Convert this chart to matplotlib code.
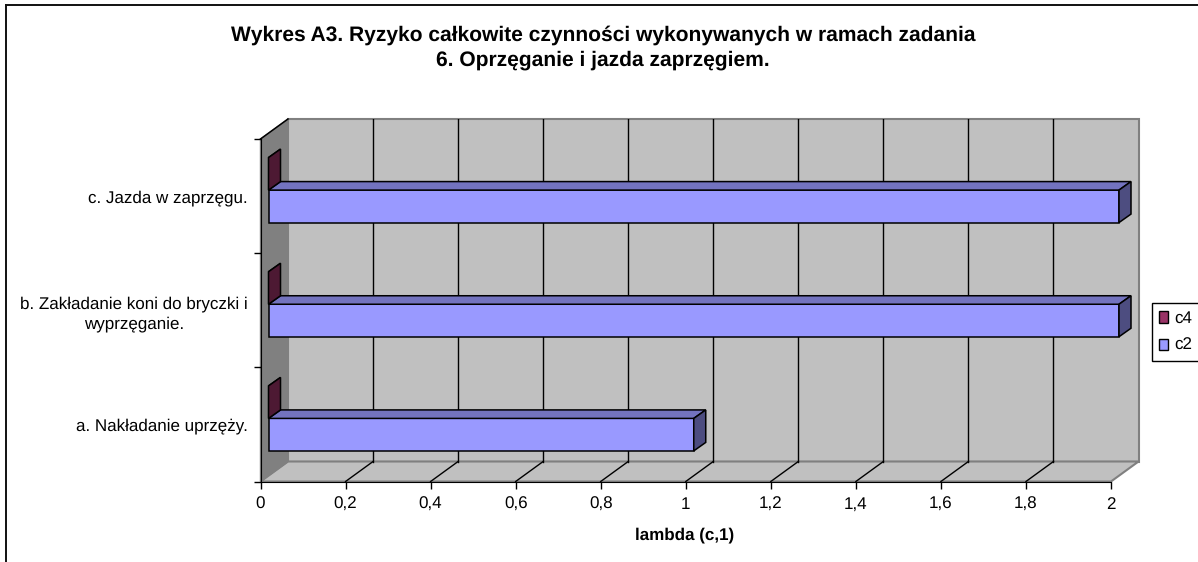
import matplotlib
matplotlib.use("Agg")
import matplotlib.pyplot as plt
from matplotlib.patches import Patch, Polygon
from matplotlib.lines import Line2D

plt.rcParams['font.family'] = ['Liberation Sans', 'DejaVu Sans']
plt.rcParams['text.hinting'] = 'none'
plt.rcParams['text.hinting_factor'] = 1

TITLE = "Wykres A3. Ryzyko całkowite czynności wykonywanych w ramach zadania\n6. Oprzęganie i jazda zaprzęgiem."
CATEGORIES = ["a. Nakładanie uprzęży.", "b. Zakładanie koni do bryczki i\nwyprzęganie.", "c. Jazda w zaprzęgu."]
C4_VALUES = [0, 0, 0]
C2_VALUES = [1, 2, 2]
X_TICKS = [0, 0.2, 0.4, 0.6, 0.8, 1, 1.2, 1.4, 1.6, 1.8, 2]
X_LABEL = "lambda (c,1)"

WIDTH, HEIGHT = 1198, 562
X0, X2 = 260.5, 1111.0
Y_BOTTOM, Y_TOP = 481.5, 139.0
PX_X = (X2 - X0) / 2
PX_Y = (Y_BOTTOM - Y_TOP) / 3

# depth of the fake 3d box, in data units
DEPTH_X, DEPTH_Y = 27.5 / PX_X, 20 / PX_Y
BAR_DX, BAR_DY = 8 / PX_X, 6 / PX_Y
BAR_DEPTH_X, BAR_DEPTH_Y = 12 / PX_X, 8.5 / PX_Y
BAR_H = 32.5 / PX_Y


def draw_bar(ax, x, y, value, front, top, side):
    x = x + BAR_DX
    y = y + BAR_DY
    ax.barh(y, value, height=BAR_H, left=x, align="edge", color=front, edgecolor="black", lw=1.1, zorder=5)
    ex, ey = BAR_DEPTH_X, BAR_DEPTH_Y
    ax.add_patch(Polygon([(x, y + BAR_H), (x + ex, y + BAR_H + ey), (x + value + ex, y + BAR_H + ey), (x + value, y + BAR_H)],
                         fc=top, ec="black", lw=1.1, zorder=5))
    ax.add_patch(Polygon([(x + value, y), (x + value + ex, y + ey), (x + value + ex, y + BAR_H + ey), (x + value, y + BAR_H)],
                         fc=side, ec="black", lw=1.1, zorder=5))


fig = plt.figure(figsize=(WIDTH / 100, HEIGHT / 100), dpi=100)

# chart border, only top and left are inside the crop
fig.add_artist(Line2D([6 / WIDTH, 6 / WIDTH], [0, 1 - 5 / HEIGHT], color="#111111", lw=1.4))
fig.add_artist(Line2D([6 / WIDTH, 1], [1 - 5 / HEIGHT] * 2, color="#111111", lw=1.4))

ax = fig.add_axes([X0 / WIDTH, 1 - Y_BOTTOM / HEIGHT, (X2 + 27.5 - X0) / WIDTH, (Y_BOTTOM - Y_TOP + 20) / HEIGHT])
ax.set_xlim(0, 2 + DEPTH_X)
ax.set_ylim(0, 3 + DEPTH_Y)
ax.patch.set_visible(False)

# walls and floor
ax.add_patch(Polygon([(DEPTH_X, DEPTH_Y), (2 + DEPTH_X, DEPTH_Y), (2 + DEPTH_X, 3 + DEPTH_Y), (DEPTH_X, 3 + DEPTH_Y)],
                     fc="#c0c0c0", ec="#808080", lw=1.5, zorder=1, clip_on=False))
ax.add_patch(Polygon([(0, 0), (2, 0), (2 + DEPTH_X, DEPTH_Y), (DEPTH_X, DEPTH_Y)],
                     fc="#c0c0c0", ec="#808080", lw=1.5, zorder=1, clip_on=False))
ax.add_patch(Polygon([(0, 0), (DEPTH_X, DEPTH_Y), (DEPTH_X, 3 + DEPTH_Y), (0, 3)],
                     fc="#808080", ec="#808080", lw=1, zorder=1, clip_on=False))
ax.plot([0, DEPTH_X], [3, 3 + DEPTH_Y], color="black", lw=1.1, zorder=2, clip_on=False)

# gridlines on back wall and floor
for tick in X_TICKS[1:-1]:
    ax.plot([tick + DEPTH_X, tick + DEPTH_X], [DEPTH_Y, 3 + DEPTH_Y], color="black", lw=1, zorder=2)
    ax.plot([tick, tick + DEPTH_X], [0, DEPTH_Y], color="black", lw=1, zorder=2)

for i in range(len(CATEGORIES)):
    base = i + 0.5 - BAR_H
    draw_bar(ax, 0, base, C2_VALUES[i], "#9999ff", "#7373bf", "#4d4d80")
    draw_bar(ax, 0, base + BAR_H, C4_VALUES[i], "#993366", "#73264d", "#4d1933")

for side in ["top", "right"]:
    ax.spines[side].set_visible(False)
ax.spines["left"].set_bounds(0, 3)
ax.spines["bottom"].set_bounds(0, 2)
ax.spines["left"].set_zorder(3)
ax.spines["bottom"].set_zorder(3)

ax.set_xticks(X_TICKS)
ax.set_xticklabels([f"{t:g}".replace(".", ",") for t in X_TICKS], fontsize=11.9)
ax.set_yticks([0, 1, 2, 3])
ax.set_yticklabels([])
ax.set_yticks([0.5, 1.5, 2.5], labels=CATEGORIES, minor=True, fontsize=11.9, multialignment="center", linespacing=1.35)
ax.tick_params(axis="y", which="minor", length=0, pad=9)
ax.tick_params(axis="y", which="major", length=5, width=1)
ax.tick_params(axis="x", length=5, width=1, pad=6)

ax.set_xlabel(X_LABEL, fontsize=11.9, fontweight="bold")
ax.xaxis.set_label_coords((685 - X0) / (X2 + 27.5 - X0), -(535 - Y_BOTTOM) / (Y_BOTTOM - Y_TOP + 20))
ax.xaxis.label.set_verticalalignment("center")

fig.text(603 / WIDTH, 1 - 48 / HEIGHT, TITLE, ha="center", va="center", fontsize=14.85, fontweight="bold", linespacing=1.35)

handles = [Patch(fc="#993366", ec="black", label="c4"), Patch(fc="#9999ff", ec="black", label="c2")]
fig.legend(handles=handles, loc="upper left", bbox_to_anchor=(1151.5 / WIDTH, 1 - 303 / HEIGHT), fontsize=11.9,
           fancybox=False, edgecolor="black", framealpha=1, borderaxespad=0, borderpad=0.45,
           handlelength=0.55, handleheight=0.7, handletextpad=0.35, labelspacing=0.7)

fig.savefig("out.png", dpi=100)
